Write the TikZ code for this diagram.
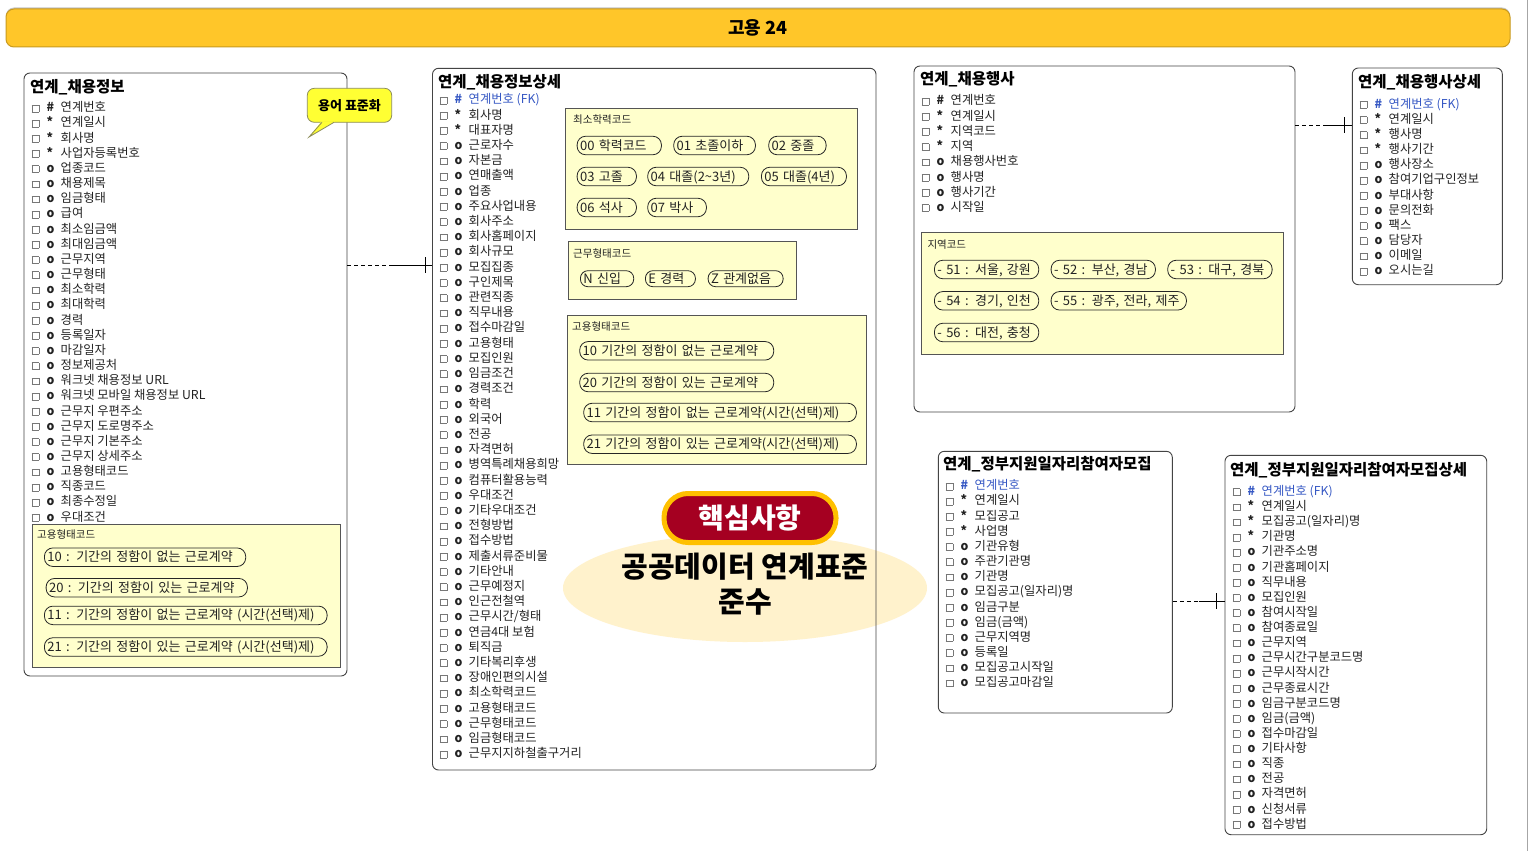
\documentclass[tikz,border=0pt]{standalone}
\usepackage{fontspec}
\setmainfont{Noto Sans CJK KR}
\usetikzlibrary{calc,shapes.geometric}
\definecolor{rowcol}{HTML}{222222}
\definecolor{fkblue}{HTML}{3658C4}
\definecolor{chkgray}{HTML}{777777}
\definecolor{tblborder}{HTML}{444444}
\definecolor{codefill}{HTML}{FFFFCC}
\definecolor{codeborder}{HTML}{555555}
\definecolor{barfill}{HTML}{FFC629}
\definecolor{barborder}{HTML}{C99A1E}
\definecolor{bubfill}{HTML}{FFFF33}
\definecolor{bubborder}{HTML}{8C8C5A}
\definecolor{ellfill}{HTML}{FFF2CC}
\definecolor{keyred}{HTML}{A50021}
\definecolor{keyorange}{HTML}{FFC000}
\newcommand{\chkbox}{\raisebox{0.3pt}{\textcolor{chkgray}{\fboxsep=0pt\fboxrule=0.6pt\fbox{\rule{0pt}{6.2pt}\hspace{6.2pt}}}}}
\newcommand{\rowtext}[2]{\makebox[15pt][l]{\chkbox}\makebox[14pt][l]{\textbf{#1}}#2}
\newcommand{\pill}[6][]{\node[pill,#1,text width=#5pt] (#2) at (#3,#4) {#6};}
\tikzset{
 row/.style={anchor=west, inner sep=0pt, font=\fontsize{12.3}{13}\selectfont, text=rowcol, text height=10pt, text depth=1pt},
 fk/.style={text=fkblue},
 ttl/.style={anchor=west, inner sep=0pt, font=\fontsize{15.5}{17}\selectfont\bfseries, text=black, text height=12.5pt, text depth=1.5pt},
 tbl/.style={draw=tblborder, line width=0.9pt, rounded corners=6pt, inner sep=0pt},
 codebox/.style={draw=codeborder, fill=codefill, line width=0.9pt, inner sep=0pt},
 codelbl/.style={anchor=west, inner sep=0pt, font=\fontsize{10.5}{11}\selectfont, text=rowcol},
 pill/.style={draw=black!85, line width=0.8pt, rounded corners=8.5pt, anchor=west, inner xsep=3pt, inner ysep=0pt, minimum height=18.5pt, align=left, font=\fontsize{13}{14}\selectfont, text=rowcol, text height=10.5pt, text depth=1.5pt},
 conn/.style={draw=black, line width=0.8pt},
 halfdash/.style={conn, dash pattern=on 4pt off 3pt},
}
\begin{document}
\begin{tikzpicture}[x=1pt,y=-1pt]
\useasboundingbox (0,0) rectangle (1530,851);
\fill[white] (0,0) rectangle (1530,851);
\draw[black!35, line width=0.8pt] (1527,0) -- (1527,851);

% title bar (with faint top shadow)
\fill[black!22, rounded corners=8pt] (6,7.5) rectangle (1510,40);
\node[fill=barfill, draw=barborder, line width=1pt, rounded corners=8pt, minimum width=1504pt, minimum height=38pt, font=\fontsize{18}{20}\selectfont\bfseries, inner sep=0pt] (bar) at (758,28) {고용 24};

% centre ellipse (behind the tables)
\node[ellipse, fill=ellfill, minimum width=364pt, minimum height=108pt, inner sep=0pt] (ell) at (745,588) {};

% tables
\node[tbl, minimum width=323pt, minimum height=603pt] (T1) at (185.5,374.5) {};
\node[tbl, minimum width=443.5pt, minimum height=701.7pt] (T2) at (654.25,419.15) {};
\node[tbl, minimum width=381pt, minimum height=346pt] (T3) at (1104.5,239) {};
\node[tbl, minimum width=150pt, minimum height=216.7pt] (T4) at (1427.3,176.35) {};
\node[tbl, minimum width=234pt, minimum height=261.7pt] (T5) at (1055.3,582.15) {};
\node[tbl, minimum width=261.7pt, minimum height=379.4pt] (T6) at (1355.85,645) {};

% titles
\node[ttl] (T1t) at (30,86.7) {연계\_채용정보};
\node[ttl] (T2t) at (438,81.7) {연계\_채용정보상세};
\node[ttl] (T3t) at (920,78.7) {연계\_채용행사};
\node[ttl] (T4t) at (1358,82) {연계\_채용행사상세};
\node[ttl] (T5t) at (943,464) {연계\_정부지원일자리참여자모집};
\node[ttl] (T6t) at (1230,470.3) {연계\_정부지원일자리참여자모집상세};

% rows T1
\foreach \s/\t [count=\i] in {\#/연계번호, */연계일시, */회사명, */사업자등록번호, o/업종코드, o/채용제목, o/임금형태, o/급여, o/최소임금액, o/최대임금액, o/근무지역, o/근무형태, o/최소학력, o/최대학력, o/경력, o/등록일자, o/마감일자, o/정보제공처, o/워크넷 채용정보 URL, o/워크넷 모바일 채용정보 URL, o/근무지 우편주소, o/근무지 도로명주소, o/근무지 기본주소, o/근무지 상세주소, o/고용형태코드, o/직종코드, o/최종수정일, o/우대조건}
  \node[row] (a\i) at (31.5,{107.3+15.16*(\i-1)}) {\rowtext{\s}{\t}};

% rows T2
\node[row,fk] (b1) at (439.5,99.3) {\rowtext{\#}{연계번호 (FK)}};
\foreach \s/\t [count=\i from 2] in {*/회사명, */대표자명, o/근로자수, o/자본금, o/연매출액, o/업종, o/주요사업내용, o/회사주소, o/회사홈페이지, o/회사규모, o/모집집종, o/구인제목, o/관련직종, o/직무내용, o/접수마감일, o/고용형태, o/모집인원, o/임금조건, o/경력조건, o/학력, o/외국어, o/전공, o/자격면허, o/병역특례채용희망, o/컴퓨터활용능력, o/우대조건, o/기타우대조건, o/전형방법, o/접수방법, o/제출서류준비물, o/기타안내, o/근무예정지, o/인근전철역, o/{근무시간/형태}, o/연금4대 보험, o/퇴직금, o/기타복리후생, o/장애인편의시설, o/최소학력코드, o/고용형태코드, o/근무형태코드, o/임금형태코드, o/근무지지하철출구거리}
  \node[row] (b\i) at (439.5,{99.3+15.21*(\i-1)}) {\rowtext{\s}{\t}};

% rows T3
\foreach \s/\t [count=\i] in {\#/연계번호, */연계일시, */지역코드, */지역, o/채용행사번호, o/행사명, o/행사기간, o/시작일}
  \node[row] (c\i) at (921.5,{100.3+15.24*(\i-1)}) {\rowtext{\s}{\t}};

% rows T4
\node[row,fk] (d1) at (1359.5,103.7) {\rowtext{\#}{연계번호 (FK)}};
\foreach \s/\t [count=\i from 2] in {*/연계일시, */행사명, */행사기간, o/행사장소, o/참여기업구인정보, o/부대사항, o/문의전화, o/팩스, o/담당자, o/이메일, o/오시는길}
  \node[row] (d\i) at (1359.5,{103.7+15.15*(\i-1)}) {\rowtext{\s}{\t}};

% rows T5
\node[row,fk] (e1) at (945.5,485.3) {\rowtext{\#}{연계번호}};
\foreach \s/\t [count=\i from 2] in {*/연계일시, */모집공고, */사업명, o/기관유형, o/주관기관명, o/기관명, o/모집공고(일자리)명, o/임금구분, o/임금(금액), o/근무지역명, o/등록일, o/모집공고시작일, o/모집공고마감일}
  \node[row] (e\i) at (945.5,{485.3+15.15*(\i-1)}) {\rowtext{\s}{\t}};

% rows T6
\node[row,fk] (f1) at (1232.5,491) {\rowtext{\#}{연계번호 (FK)}};
\foreach \s/\t [count=\i from 2] in {*/연계일시, */모집공고(일자리)명, */기관명, o/기관주소명, o/기관홈페이지, o/직무내용, o/모집인원, o/참여시작일, o/참여종료일, o/근무지역, o/근무시간구분코드명, o/근무시작시간, o/근무종료시간, o/임금구분코드명, o/임금(금액), o/접수마감일, o/기타사항, o/직종, o/전공, o/자격면허, o/신청서류, o/접수방법}
  \node[row] (f\i) at (1232.5,{491+15.12*(\i-1)}) {\rowtext{\s}{\t}};

% code box: left 고용형태코드
\node[codebox, minimum width=307.5pt, minimum height=142.5pt] (B1) at (186.25,595.75) {};
\node[codelbl] (B1l) at (37,535) {고용형태코드};
\pill{p11}{44}{557.2}{195.3}{10 : 기간의 정함이 없는 근로계약}
\pill{p12}{45.7}{587.7}{195.3}{20 : 기간의 정함이 있는 근로계약}
\pill{p13}{44}{615.4}{276.7}{11 : 기간의 정함이 없는 근로계약 (시간(선택)제)}
\pill{p14}{44}{647}{276.7}{21 : 기간의 정함이 있는 근로계약 (시간(선택)제)}

% code box: 최소학력코드
\node[codebox, minimum width=292pt, minimum height=120.7pt] (B2) at (711.7,168.65) {};
\node[codelbl] (B2l) at (573,120) {최소학력코드};
\pill{p21}{576.7}{145.5}{78.3}{00 학력코드}
\pill{p22}{673.3}{145.5}{75.7}{01 초졸이하}
\pill{p23}{768.3}{145.5}{51.4}{02 중졸}
\pill{p24}{576.7}{176.5}{53.3}{03 고졸}
\pill{p25}{647.3}{176.5}{95}{04 대졸(2\textasciitilde3년)}
\pill{p26}{761}{176.5}{79}{05 대졸(4년)}
\pill{p27}{576.7}{207.5}{53.3}{06 석사}
\pill{p28}{647.3}{207.5}{52.7}{07 박사}

% code box: 근무형태코드
\node[codebox, minimum width=227.7pt, minimum height=57.3pt] (B3) at (682.15,270.35) {};
\node[codelbl] (B3l) at (573,253.3) {근무형태코드};
\pill[minimum height=16pt, rounded corners=7.5pt]{p31}{580}{278.7}{47.3}{N 신입}
\pill[minimum height=16pt, rounded corners=7.5pt]{p32}{645}{278.7}{44}{E 경력}
\pill[minimum height=16pt, rounded corners=7.5pt]{p33}{707.7}{278.7}{69}{Z 관계없음}

% code box: middle 고용형태코드
\node[codebox, minimum width=299.4pt, minimum height=149.3pt] (B4) at (717,389.65) {};
\node[codelbl] (B4l) at (572,326.7) {고용형태코드};
\pill{p41}{579.3}{350.8}{188}{10 기간의 정함이 없는 근로계약}
\pill{p42}{579.3}{382.5}{188}{20 기간의 정함이 있는 근로계약}
\pill{p43}{583.3}{412.5}{266.7}{11 기간의 정함이 없는 근로계약(시간(선택)제)}
\pill{p44}{583.3}{444.2}{266.7}{21 기간의 정함이 있는 근로계약(시간(선택)제)}

% code box: 지역코드
\node[codebox, minimum width=361.6pt, minimum height=121.6pt] (B5) at (1102.5,293.5) {};
\node[codelbl] (B5l) at (927.3,244.7) {지역코드};
\pill{p51}{934}{269.5}{98.3}{- 51 : 서울, 강원}
\pill{p52}{1050.7}{269.5}{98.3}{- 52 : 부산, 경남}
\pill{p53}{1167.3}{269.5}{98.4}{- 53 : 대구, 경북}
\pill{p54}{934}{300.8}{98.3}{- 54 : 경기, 인천}
\pill{p55}{1050.7}{300.8}{129.3}{- 55 : 광주, 전라, 제주}
\pill{p56}{934}{332.5}{98.3}{- 56 : 대전, 충청}

% speech bubble
\node[fill=bubfill, draw=bubborder, line width=0.8pt, rounded corners=7pt, minimum width=84.4pt, minimum height=34pt, inner sep=0pt, font=\fontsize{13}{14}\selectfont\bfseries] (bub) at (349.5,105.3) {용어 표준화};
\fill[bubfill] (321.5,121.4) -- (309,137) -- (335,121.4) -- cycle;
\draw[bubborder, line width=0.8pt] (322,122.3) -- (309,137) -- (334,122.3);

% key message
\node[draw=keyorange, line width=5pt, fill=keyred, rounded corners=24pt, minimum width=172pt, minimum height=49pt, text=white, font=\fontsize{28}{30}\selectfont\bfseries, inner sep=0pt] (key) at (750,518) {핵심사항};
\node[font=\fontsize{29}{35}\selectfont\bfseries, align=center, inner sep=0pt] (ellt) at (745,584) {공공데이터 연계표준\\준수};

% connectors
\coordinate (k1) at (0,265);
\coordinate (k2) at (0,125);
\coordinate (k3) at (0,601);
\draw[halfdash] (T1.east |- k1) -- ($(T1.east |- k1)!0.5!(T2.west |- k1)$) coordinate (k1m);
\draw[conn] (k1m) -- (T2.west |- k1);
\draw[conn] ($(T2.west |- k1)+(-7,-8)$) -- ($(T2.west |- k1)+(-7,8)$);
\draw[halfdash] (T3.east |- k2) -- ($(T3.east |- k2)!0.5!(T4.west |- k2)$) coordinate (k2m);
\draw[conn] (k2m) -- (T4.west |- k2);
\draw[conn] ($(T4.west |- k2)+(-7,-8)$) -- ($(T4.west |- k2)+(-7,8)$);
\draw[halfdash] (T5.east |- k3) -- ($(T5.east |- k3)!0.5!(T6.west |- k3)$) coordinate (k3m);
\draw[conn] (k3m) -- (T6.west |- k3);
\draw[conn] ($(T6.west |- k3)+(-8,-8)$) -- ($(T6.west |- k3)+(-8,8)$);
\end{tikzpicture}
\end{document}
